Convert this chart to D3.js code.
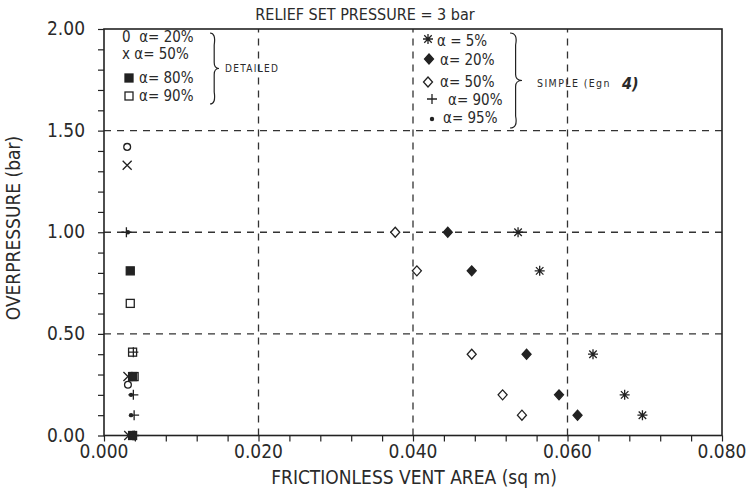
<!DOCTYPE html>
<html><head><meta charset="utf-8">
<script src="https://cdn.jsdelivr.net/npm/d3@7"></script>
<style>
body{margin:0;background:#fff;}
text{font-family:"Liberation Sans Narrow","DejaVu Sans Condensed","Liberation Sans",sans-serif;fill:#2a2a2a;}
</style></head><body>
<svg id="c" width="747" height="495"></svg>
<script>
// ---- data ----
const title = "RELIEF SET PRESSURE = 3 bar";
const xTitle = "FRICTIONLESS VENT AREA (sq m)";
const yTitle = "OVERPRESSURE (bar)";
const xTickValues = [0, 0.02, 0.04, 0.06, 0.08];
const yTickValues = [0, 0.5, 1.0, 1.5, 2.0];
// simple model (eqn 4)
const simpleOverpressure = [1.00, 0.81, 0.40, 0.20, 0.10];
const simpleA5  = [0.0536, 0.0564, 0.0633, 0.0674, 0.0697];
const simpleA20 = [0.0445, 0.0476, 0.0547, 0.0589, 0.0613];
const simpleA50 = [0.0377, 0.0405, 0.0476, 0.0516, 0.0541];
const simpleA90 = [[0.0029, 1.00], [0.0038, 0.41], [0.0038, 0.20], [0.0039, 0.10], [0.0039, 0.0]];
const simpleA95 = [[0.0031, 1.00], [0.0035, 0.20], [0.0035, 0.10]];
// detailed model
const detailedA20 = [[0.0030, 1.42], [0.0031, 0.25]];
const detailedA50 = [[0.0030, 1.33], [0.0031, 0.29], [0.0032, 0.0]];
const detailedA80 = [[0.0034, 0.81], [0.0037, 0.29], [0.0037, 0.0]];
const detailedA90 = [[0.0034, 0.65], [0.0037, 0.41], [0.0039, 0.29]];

const W = 747, H = 495;
const m = {l: 104, r: 25, t: 29, b: 59.5};
const svg = d3.select("#c");
const x = d3.scaleLinear().domain([0, 0.08]).range([m.l, W - m.r]);
const y = d3.scaleLinear().domain([0, 2]).range([H - m.b, m.t]);
const ink = "#222";

// grid
const g = svg.append("g").attr("stroke", "#333").attr("stroke-width", 1.3).attr("stroke-dasharray", "7,6");
[0.02, 0.04, 0.06].forEach(v => g.append("line").attr("x1", x(v)).attr("x2", x(v)).attr("y1", y(0)).attr("y2", y(2)));
[0.5, 1.0, 1.5].forEach(v => g.append("line").attr("x1", x(0)).attr("x2", x(0.08)).attr("y1", y(v)).attr("y2", y(v)));

// axes
const xAxis = d3.axisBottom(x).tickValues(d3.range(0, 0.0801, 0.004)).tickSize(6).tickFormat("");
const yAxis = d3.axisLeft(y).tickValues(d3.range(0, 2.001, 0.1)).tickSize(6).tickFormat("");
svg.append("g").attr("transform", `translate(0,${y(0)})`).call(xAxis)
  .call(s => { s.select(".domain").remove(); s.selectAll("line").attr("stroke", ink).attr("stroke-width", 1.2); });
svg.append("g").attr("transform", `translate(${x(0)},0)`).call(yAxis)
  .call(s => { s.select(".domain").remove(); s.selectAll("line").attr("stroke", ink).attr("stroke-width", 1.2); });
svg.append("rect").attr("x", x(0)).attr("y", y(2)).attr("width", x(0.08) - x(0)).attr("height", y(0) - y(2))
  .attr("fill", "none").attr("stroke", ink).attr("stroke-width", 1.6);

// tick labels
svg.selectAll(".xl").data(xTickValues).enter().append("text")
  .attr("x", d => x(d)).attr("y", y(0) + 22).attr("text-anchor", "middle").attr("font-size", 19)
  .text(d => d3.format(".3f")(d));
svg.selectAll(".yl").data(yTickValues).enter().append("text")
  .attr("x", x(0) - 19).attr("y", d => y(d) + 6).attr("text-anchor", "end").attr("font-size", 19)
  .text(d => d3.format(".2f")(d));

// titles
svg.append("text").attr("x", 365).attr("y", 20).attr("text-anchor", "middle").attr("font-size", 16).text(title);
svg.append("text").attr("x", 414).attr("y", 484).attr("text-anchor", "middle").attr("font-size", 19).text(xTitle);
svg.append("text").attr("transform", "translate(20,228) rotate(-90)").attr("text-anchor", "middle").attr("font-size", 19).text(yTitle);

// marker drawing
function marker(sel, type, cx, cy) {
  const gm = sel.append("g").attr("transform", `translate(${cx},${cy})`).attr("stroke", ink).attr("fill", "none").attr("stroke-width", 1.3);
  if (type === "star") {
    const r = 5;
    gm.append("path").attr("d", `M0,${-r}V${r}M${-r},0H${r}M${-r*0.75},${-r*0.75}L${r*0.75},${r*0.75}M${-r*0.75},${r*0.75}L${r*0.75},${-r*0.75}`);
  } else if (type === "fdiam") {
    gm.append("path").attr("d", "M0,-5L4.5,0L0,5L-4.5,0Z").attr("fill", ink);
  } else if (type === "odiam") {
    gm.append("path").attr("d", "M0,-5L4.5,0L0,5L-4.5,0Z").attr("fill", "#fff");
  } else if (type === "plus") {
    gm.append("path").attr("d", "M0,-5V5M-5,0H5");
  } else if (type === "dot") {
    gm.append("circle").attr("r", 2.2).attr("fill", ink).attr("stroke", "none");
  } else if (type === "circ") {
    gm.append("circle").attr("r", 3.4);
  } else if (type === "cross") {
    gm.append("path").attr("d", "M-4.5,-4.5L4.5,4.5M-4.5,4.5L4.5,-4.5");
  } else if (type === "fsq") {
    gm.append("rect").attr("x", -4).attr("y", -4).attr("width", 8).attr("height", 8).attr("fill", ink);
  } else if (type === "osq") {
    gm.append("rect").attr("x", -4).attr("y", -4).attr("width", 8).attr("height", 8).attr("fill", "#fff");
  }
}
const pts = svg.append("g");
simpleA5.forEach((v, i) => marker(pts, "star", x(v), y(simpleOverpressure[i])));
simpleA20.forEach((v, i) => marker(pts, "fdiam", x(v), y(simpleOverpressure[i])));
simpleA50.forEach((v, i) => marker(pts, "odiam", x(v), y(simpleOverpressure[i])));
detailedA90.forEach(d => marker(pts, "osq", x(d[0]), y(d[1])));
detailedA80.forEach(d => marker(pts, "fsq", x(d[0]), y(d[1])));
detailedA20.forEach(d => marker(pts, "circ", x(d[0]), y(d[1])));
detailedA50.forEach(d => marker(pts, "cross", x(d[0]), y(d[1])));
simpleA90.forEach(d => marker(pts, "plus", x(d[0]), y(d[1])));
simpleA95.forEach(d => marker(pts, "dot", x(d[0]), y(d[1])));

// legends
const lg = svg.append("g");
const lt = (tx, ty, s, fs) => lg.append("text").attr("x", tx).attr("y", ty).attr("font-size", fs || 15)
  .attr("xml:space", "preserve").text(s);
lt(122, 42, "0  α= 20%");
lt(122, 59, "x α= 50%");
marker(lg, "fsq", 129, 78); lt(139, 83, "α= 80%");
marker(lg, "osq", 129, 96); lt(139, 101, "α= 90%");
function brace(x0, y0, y1, w) {
  const ym = (y0 + y1) / 2;
  lg.append("path").attr("fill", "none").attr("stroke", ink).attr("stroke-width", 1.2)
    .attr("d", `M${x0},${y0} Q${x0+w},${y0} ${x0+w*0.7},${y0+12} L${x0+w*0.7},${ym-6} Q${x0+w*0.7},${ym} ${x0+w*1.5},${ym}
      Q${x0+w*0.7},${ym} ${x0+w*0.7},${ym+6} L${x0+w*0.7},${y1-12} Q${x0+w},${y1} ${x0},${y1}`);
}
brace(210, 33, 104, 6);
lg.append("text").attr("x", 225).attr("y", 72).attr("font-size", 10).attr("letter-spacing", 1.3).text("DETAILED");

marker(lg, "star", 428, 39); lt(437, 46, "α = 5%");
marker(lg, "fdiam", 429, 59); lt(440, 65, "α= 20%");
marker(lg, "odiam", 428, 82); lt(440, 87, "α= 50%");
marker(lg, "plus", 432, 99); lt(448, 105, "α= 90%");
marker(lg, "dot", 432, 119); lt(443, 123, "α= 95%");
brace(510, 33, 128, 8);
lg.append("text").attr("x", 537).attr("y", 87).attr("font-size", 10.5).attr("letter-spacing", 1.4).text("SIMPLE (Egn");
lg.append("text").attr("x", 622).attr("y", 89).attr("font-size", 16).attr("font-style", "italic").attr("font-weight", "bold").text("4)");
</script></body></html>
